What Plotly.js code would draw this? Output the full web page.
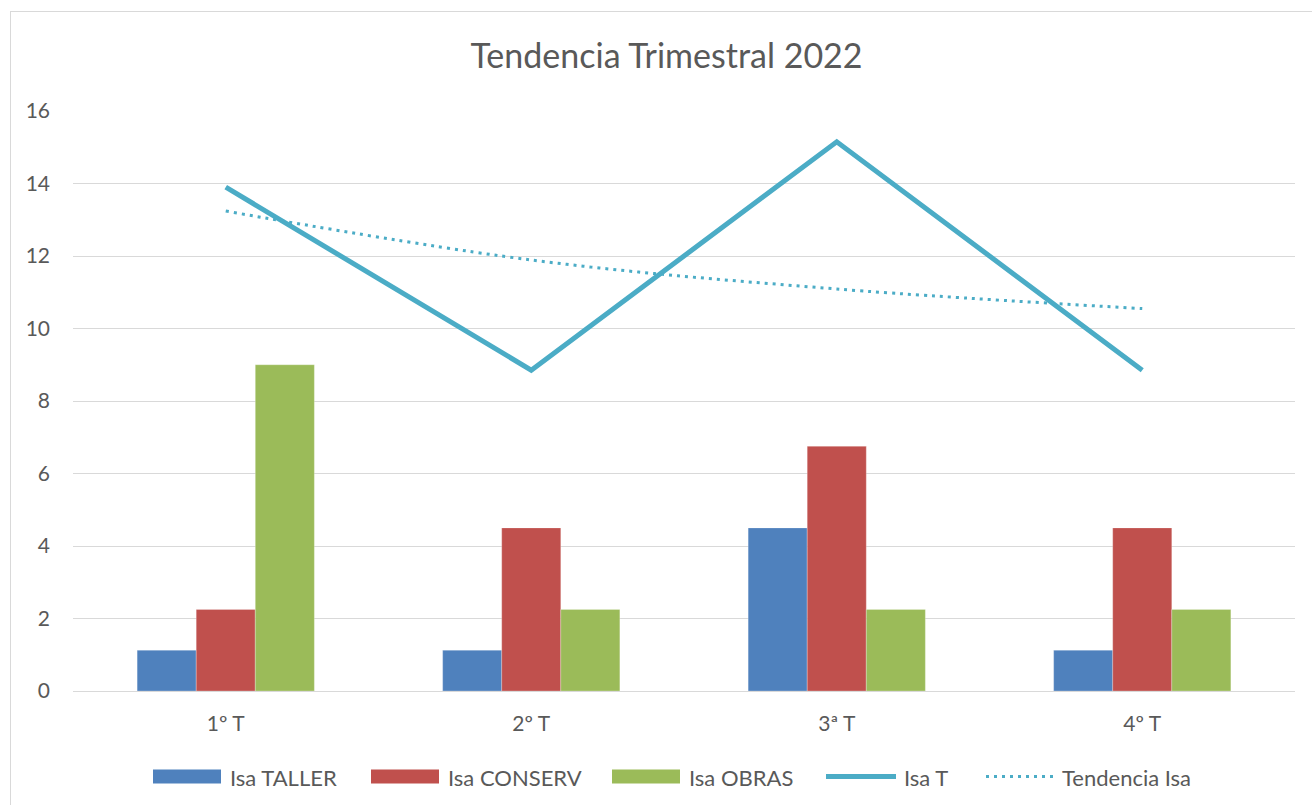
<!DOCTYPE html>
<html><head><meta charset="utf-8">
<script src="https://cdn.plot.ly/plotly-3.0.1.min.js"></script>
<style>
html,body{margin:0;padding:0;background:#fff;}
#wrap{position:relative;width:1312px;height:805px;overflow:hidden;}
#chart{position:absolute;left:0;top:0;width:1312px;height:805px;}
#frame{position:absolute;left:10px;top:11px;width:1310px;height:800px;border-top:1px solid #d9d9d9;border-left:1px solid #d9d9d9;pointer-events:none;}
</style></head>
<body><div id="wrap"><div id="chart"></div><div id="frame"></div></div>
<script>
const categories = ["1º T", "2º T", "3ª T", "4º T"];
const isaTaller = [1.125, 1.125, 4.5, 1.125];
const isaConserv = [2.25, 4.5, 6.75, 4.5];
const isaObras = [9, 2.25, 2.25, 2.25];
const isaT = [13.9, 8.85, 15.15, 8.85];
const tendenciaIsa = [13.24, 11.89, 11.09, 10.55];
const yTicks = [0, 2, 4, 6, 8, 10, 12, 14, 16];
const seriesNames = ["Isa TALLER", "Isa CONSERV", "Isa OBRAS", "Isa T", "Tendencia Isa"];

const font = "Lato, 'Open Sans', sans-serif";
const grey = "#595959";
const colors = ["#4F81BD", "#C0504D", "#9BBB59", "#4BACC6", "#4BACC6"];
const barLine = {color:"rgba(255,255,255,0.5)", width:0.5};

const traces = [
  {type:"bar", name:seriesNames[0], x:categories, y:isaTaller, marker:{color:colors[0], line:barLine}},
  {type:"bar", name:seriesNames[1], x:categories, y:isaConserv, marker:{color:colors[1], line:barLine}},
  {type:"bar", name:seriesNames[2], x:categories, y:isaObras, marker:{color:colors[2], line:barLine}},
  {type:"scatter", mode:"lines", name:seriesNames[3], x:categories, y:isaT, line:{color:colors[3], width:5}},
  {type:"scatter", mode:"lines", name:seriesNames[4], x:categories, y:tendenciaIsa, line:{color:colors[4], width:3, dash:"3px,5px", shape:"spline"}}
];

// Custom legend (Excel-style wide swatches), positioned in paper coordinates
const L = 73, W = 1222, Y0 = 691, H = 580;
const px = v => (v - L) / W;
const py = v => (Y0 - v) / H;
const legY = 776.5;
const swatches = [[153,221,228],[371,439,446],[612,680,687],[826,896,902],[986,1053,1060]];
const shapes = [];
const annotations = [];
swatches.forEach((s, i) => {
  if (i < 3) {
    shapes.push({type:"rect", xref:"paper", yref:"paper", x0:px(s[0]), x1:px(s[1]), y0:py(legY+7), y1:py(legY-7), fillcolor:colors[i], line:{width:0}});
  } else if (i === 3) {
    shapes.push({type:"line", xref:"paper", yref:"paper", x0:px(s[0]), x1:px(s[1]), y0:py(legY), y1:py(legY), line:{color:colors[i], width:5}});
  } else {
    shapes.push({type:"line", xref:"paper", yref:"paper", x0:px(s[0]), x1:px(s[1]), y0:py(legY), y1:py(legY), line:{color:colors[i], width:3, dash:"3px,5px"}});
  }
  annotations.push({xref:"paper", yref:"paper", x:px(s[2]), y:py(legY+1), xanchor:"left", yanchor:"middle", text:seriesNames[i], showarrow:false, font:{family:font, size:22, color:grey}});
});

const layout = {
  width:1312, height:805,
  margin:{l:73, r:17, t:111, b:114},
  paper_bgcolor:"#fff", plot_bgcolor:"#fff",
  font:{family:font, color:grey, size:21},
  title:{text:"Tendencia Trimestral 2022", font:{family:font, size:34, color:grey}, xref:"container", x:0.508, xanchor:"center", y:0.93, yanchor:"middle"},
  barmode:"group", bargap:0.42, bargroupgap:0,
  xaxis:{tickfont:{size:21, color:grey}, showgrid:false, zeroline:false, showline:true, linecolor:"#d9d9d9", linewidth:1, ticks:"", ticklen:0, ticklabelstandoff:14},
  yaxis:{range:[0,16], tickvals:yTicks, ticktext:yTicks.map(String), tickfont:{size:21, color:grey}, showgrid:true, gridcolor:"#d9d9d9", gridwidth:1, zeroline:false, showline:false, ticks:"", ticklabelstandoff:22},
  showlegend:false,
  shapes:shapes,
  annotations:annotations
};

Plotly.newPlot("chart", traces, layout, {displayModeBar:false, staticPlot:true});
</script></body></html>
